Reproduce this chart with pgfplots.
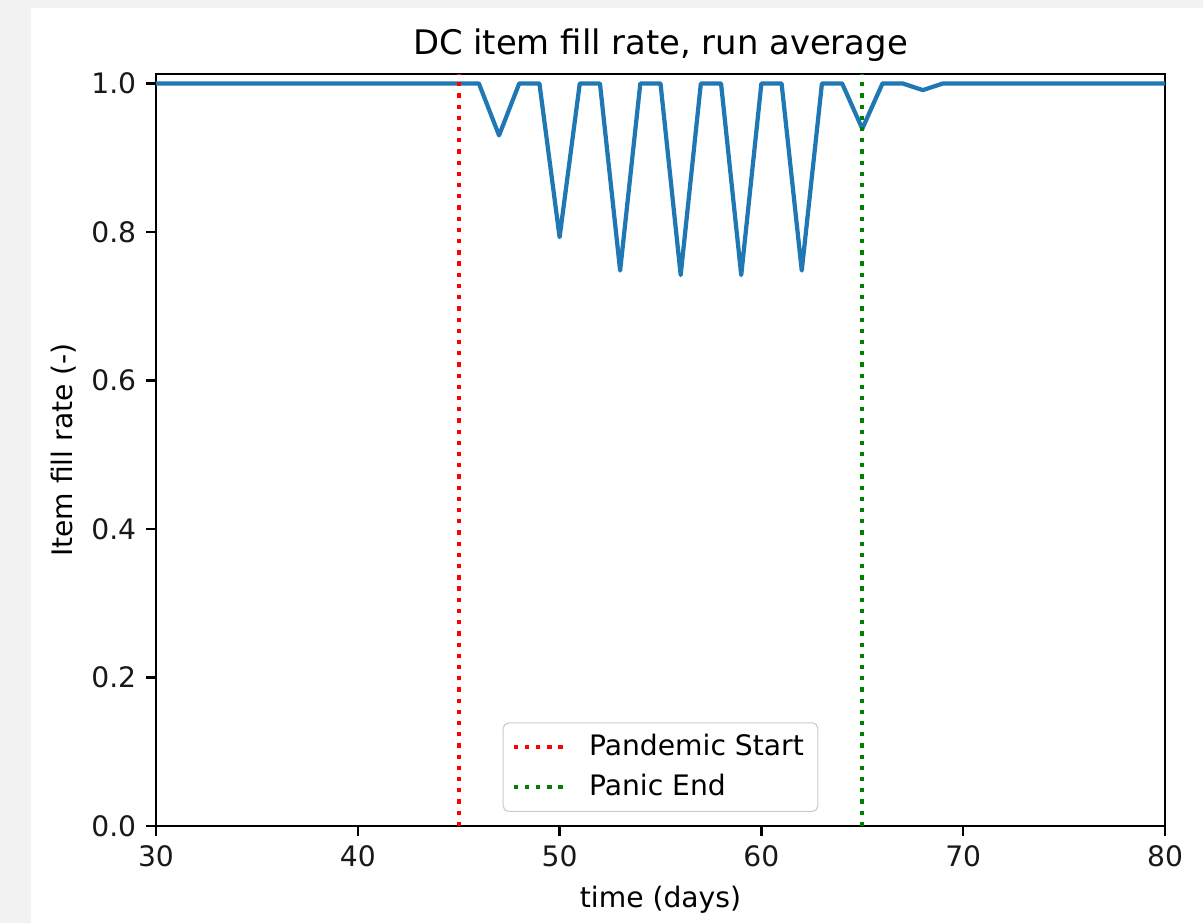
\documentclass[border=0pt]{standalone}
\usepackage{fontspec}
\setmainfont{DejaVu Sans}
\usepackage{pgfplots}
\pgfplotsset{compat=1.18}
\definecolor{mplblue}{HTML}{1F77B4}
\definecolor{mplgreen}{HTML}{008000}
\definecolor{bggray}{HTML}{F2F2F2}

\begin{document}
\begin{tikzpicture}
\fill[bggray] (0,0) rectangle (426.7pt,327.4pt);
\fill[white] (11pt,0) rectangle (426.7pt,324.6pt);
\useasboundingbox (0,0) rectangle (426.7pt,327.4pt);
\begin{axis}[
  at={(55.33pt,34.4pt)}, anchor=south west,
  scale only axis, width=357.9pt, height=266.8pt,
  xmin=30, xmax=80, ymin=0, ymax=1.0129,
  xtick={30,40,...,80},
  ytick={0,0.2,0.4,0.6,0.8,1.0},
  yticklabel style={/pgf/number format/.cd,fixed,fixed zerofill,precision=1},
  /pgf/number format/assume math mode=true,
  tick label style={font=\fontsize{10}{12}\selectfont, color=black!90},
  tick align=outside, tick pos=left,
  major tick length=3.5pt,
  every tick/.style={line width=0.8pt, black},
  axis line style={line width=0.8pt},
  title={DC item fill rate, run average},
  title style={font=\fontsize{12}{14}\selectfont, anchor=base, at={(0.5,1)}, yshift=0.9pt},
  xlabel={time (days)}, ylabel={Item fill rate (-)},
  label style={font=\fontsize{10}{12}\selectfont},
  xlabel style={yshift=0pt},
  ylabel style={yshift=-1.5pt},
  legend style={at={(0.5,0.0187)}, anchor=south, draw=black!20, rounded corners=2pt,
    fill=white, fill opacity=0.8, text opacity=1,
    font=\fontsize{10}{12}\selectfont, inner xsep=3pt, inner ysep=2pt,
    row sep=1.2pt, column sep=6pt},
  legend cell align=left,
  legend image code/.code={\draw[#1] (0pt,0pt) -- (18pt,0pt);},
]
\addplot[mplblue, line width=1.5pt, line join=round, line cap=rect, forget plot] coordinates {
(30,1) (31,1) (32,1) (33,1) (34,1) (35,1) (36,1) (37,1) (38,1) (39,1)
(40,1) (41,1) (42,1) (43,1) (44,1) (45,1) (46,1) (47,0.930) (48,1) (49,1)
(50,0.793) (51,1) (52,1) (53,0.748) (54,1) (55,1) (56,0.742) (57,1) (58,1)
(59,0.742) (60,1) (61,1) (62,0.748) (63,1) (64,1) (65,0.939) (66,1) (67,1)
(68,0.991) (69,1) (70,1) (71,1) (72,1) (73,1) (74,1) (75,1) (76,1) (77,1)
(78,1) (79,1) (80,1)};
\addplot[red, line width=1.5pt, dash pattern=on 1.5pt off 2.475pt] coordinates {(45,0) (45,1.0129)};
\addlegendentry{Pandemic Start}
\addplot[mplgreen, line width=1.5pt, dash pattern=on 1.5pt off 2.475pt] coordinates {(65,0) (65,1.0129)};
\addlegendentry{Panic End}
\end{axis}
\end{tikzpicture}
\end{document}
